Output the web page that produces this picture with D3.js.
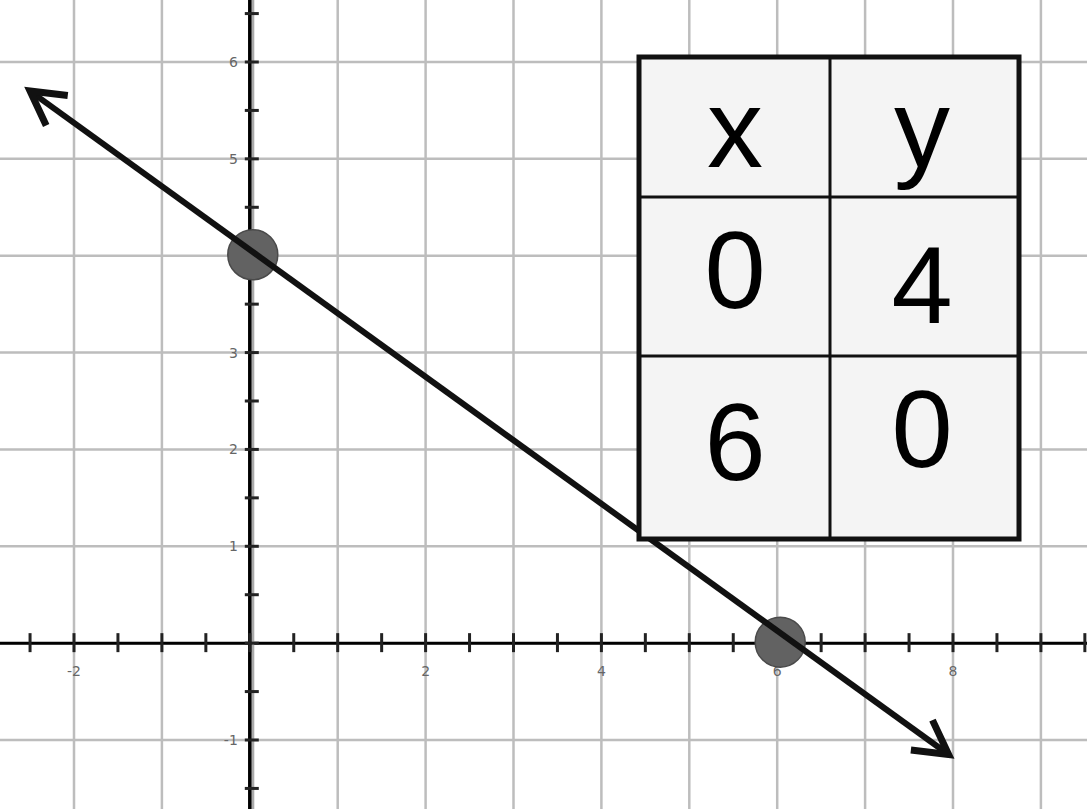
<!DOCTYPE html>
<html>
<head>
<meta charset="utf-8">
<script src="https://cdn.jsdelivr.net/npm/d3@7"></script>
<style>
html,body{margin:0;padding:0;background:#fff;}
svg{display:block;}
</style>
</head>
<body>
<svg id="chart" width="1087" height="809"></svg>
<script>
// ---- data ----
const xGrid = [-3,-2,-1,0,1,2,3,4,5,6,7,8,9,10];
const yGrid = [-2,-1,0,1,2,3,4,5,6,7];
const xTickLabels = [-2,2,4,6,8];
const yTickLabels = [-1,1,2,3,5,6];
const pointsX = [0,6];
const pointsY = [4,0];
const lineStart = [-2.5,5.7];
const lineEnd = [7.95,-1.15];
const tableHeader = ["x","y"];
const tableRows = [["0","4"],["6","0"]];

// ---- layout ----
const W = 1087, H = 809;
const svg = d3.select("#chart");
const x = d3.scaleLinear().domain([-2,8]).range([74,953]);
const y = d3.scaleLinear().domain([-1,6]).range([740,62]);

// grid
svg.append("g").selectAll("line").data(xGrid).join("line")
  .attr("x1",d=>x(d)).attr("x2",d=>x(d)).attr("y1",0).attr("y2",H)
  .attr("stroke","#bdbdbd").attr("stroke-width",2.5);
svg.append("g").selectAll("line").data(yGrid).join("line")
  .attr("y1",d=>y(d)).attr("y2",d=>y(d)).attr("x1",0).attr("x2",W)
  .attr("stroke","#bdbdbd").attr("stroke-width",2.5);

// axes
svg.append("line").attr("x1",0).attr("x2",W).attr("y1",y(0)).attr("y2",y(0))
  .attr("stroke","#000").attr("stroke-width",3);
svg.append("line").attr("x1",x(0)+3).attr("x2",x(0)+3).attr("y1",0).attr("y2",H)
  .attr("stroke","#aaa").attr("stroke-width",3);
svg.append("line").attr("x1",x(0)).attr("x2",x(0)).attr("y1",0).attr("y2",H)
  .attr("stroke","#000").attr("stroke-width",3.5);

// ticks
const xt = d3.range(-2.5,10.01,0.5);
svg.append("g").selectAll("line").data(xt).join("line")
  .attr("x1",d=>x(d)).attr("x2",d=>x(d)).attr("y1",y(0)-10).attr("y2",y(0)+9)
  .attr("stroke","#222").attr("stroke-width",3);
const yt = d3.range(-1.5,7.01,0.5);
svg.append("g").selectAll("line").data(yt).join("line")
  .attr("y1",d=>y(d)).attr("y2",d=>y(d)).attr("x1",x(0)-5).attr("x2",x(0)+9)
  .attr("stroke","#222").attr("stroke-width",3);

// tick labels
svg.append("g").selectAll("text").data(xTickLabels).join("text")
  .attr("x",d=>x(d)).attr("y",y(0)+33)
  .attr("text-anchor","middle")
  .attr("font-family","DejaVu Sans, sans-serif").attr("font-size",14)
  .attr("fill","#666").text(d=>d);
svg.append("g").selectAll("text").data(yTickLabels).join("text")
  .attr("x",x(0)-12).attr("y",d=>y(d)+5)
  .attr("text-anchor","end")
  .attr("font-family","DejaVu Sans, sans-serif").attr("font-size",14)
  .attr("fill","#666").text(d=>d);

// points
svg.append("g").selectAll("circle").data(pointsX.map((v,i)=>[v,pointsY[i]])).join("circle")
  .attr("cx",d=>x(d[0])+3).attr("cy",d=>y(d[1])-1)
  .attr("r",25).attr("fill","#626262").attr("stroke","#4a4a4a").attr("stroke-width",1.5);

// line with arrows
const x1 = x(lineStart[0]), y1 = y(lineStart[1]);
const x2 = x(lineEnd[0]), y2 = y(lineEnd[1]);
svg.append("line").attr("x1",x1).attr("y1",y1).attr("x2",x2).attr("y2",y2)
  .attr("stroke","#111").attr("stroke-width",6);
function arrow(tx,ty,fx,fy){
  const ang = Math.atan2(fy-ty,fx-tx);
  const L = 38, a = Math.PI/6.2;
  const p1 = [tx+L*Math.cos(ang+a), ty+L*Math.sin(ang+a)];
  const p2 = [tx+L*Math.cos(ang-a), ty+L*Math.sin(ang-a)];
  svg.append("path")
    .attr("d",`M${p1[0]},${p1[1]}L${tx},${ty}L${p2[0]},${p2[1]}`)
    .attr("fill","none").attr("stroke","#111").attr("stroke-width",7)
    .attr("stroke-linejoin","miter").attr("stroke-linecap","butt");
}
arrow(x1,y1,x2,y2);
arrow(x2,y2,x1,y1);

// table
const tb = {x0:639, x1:1019, y0:57, colSplit:830, rows:[57,197,356,539]};
const tg = svg.append("g");
tg.append("rect").attr("x",tb.x0).attr("y",tb.y0).attr("width",tb.x1-tb.x0).attr("height",tb.rows[3]-tb.y0)
  .attr("fill","#f4f4f4");
tg.append("line").attr("x1",tb.colSplit).attr("x2",tb.colSplit).attr("y1",tb.y0).attr("y2",tb.rows[3])
  .attr("stroke","#111").attr("stroke-width",3);
[tb.rows[1],tb.rows[2]].forEach(r=>{
  tg.append("line").attr("x1",tb.x0).attr("x2",tb.x1).attr("y1",r).attr("y2",r)
    .attr("stroke","#111").attr("stroke-width",3);
});
tg.append("rect").attr("x",tb.x0).attr("y",tb.y0).attr("width",tb.x1-tb.x0).attr("height",tb.rows[3]-tb.y0)
  .attr("fill","none").attr("stroke","#111").attr("stroke-width",5);

const cells = [tableHeader, ...tableRows];
const colCx = [735, 922];
const baselines = [[167,167],[308,323],[480,467]];
cells.forEach((row,ri)=>{
  row.forEach((txt,ci)=>{
    tg.append("text").attr("x",colCx[ci]).attr("y",baselines[ri][ci])
      .attr("text-anchor","middle")
      .attr("font-family","Liberation Sans, Arial, sans-serif")
      .attr("font-size",ri===0?112:110)
      .attr("fill","#000").text(txt);
  });
});
</script>
</body>
</html>
